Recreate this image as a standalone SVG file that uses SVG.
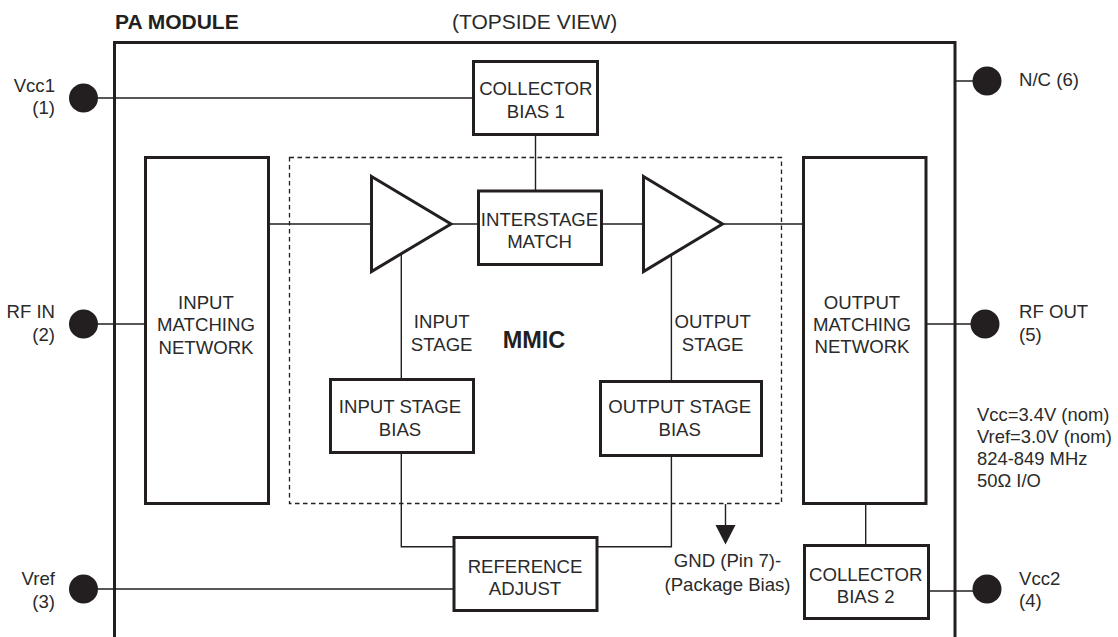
<svg xmlns="http://www.w3.org/2000/svg" width="1118" height="637" viewBox="0 0 1118 637">
<defs><style>
text{font-family:"Liberation Sans",Arial,sans-serif;font-size:18.6px;fill:#2a2a2a}
.m{text-anchor:middle}.e{text-anchor:end}
.b{fill:#fff;stroke:#231f20;stroke-width:3}
.l{fill:none;stroke:#231f20;stroke-width:1.4}
.p{fill:#231f20}
</style></defs>
<rect width="1118" height="637" fill="#fff"/>
<g id="labels">
<text x="115" y="29" style="font-weight:bold;font-size:21px;fill:#231f20">PA MODULE</text>
<text x="452" y="29" style="font-size:21px">(TOPSIDE VIEW)</text>
<text x="977" y="421" style="font-size:18.4px">Vcc=3.4V (nom)</text>
<text x="977" y="443" style="font-size:18.4px">Vref=3.0V (nom)</text>
<text x="977" y="465" style="font-size:18.4px">824-849 MHz</text>
<text x="977" y="487" style="font-size:18.4px">50Ω I/O</text>
<text x="727.5" y="567" class="m">GND (Pin 7)-</text>
<text x="727.5" y="591" class="m">(Package Bias)</text>
<text x="441.7" y="328" class="m">INPUT</text>
<text x="441.7" y="351" class="m">STAGE</text>
<text x="712.7" y="328" class="m">OUTPUT</text>
<text x="712.7" y="351" class="m">STAGE</text>
<text x="534" y="348" class="m" style="font-weight:bold;font-size:23.5px;fill:#231f20">MMIC</text>
</g>
<rect id="module" x="114.5" y="42.5" width="840.5" height="610" fill="none" stroke="#231f20" stroke-width="3"/>
<rect id="mmic" x="289.5" y="157.5" width="492" height="346" fill="none" stroke="#231f20" stroke-width="1.3" stroke-dasharray="4.5 3.5"/>
<g id="connectors">
<path class="l" d="M83 98H473M535.5 135V190M269 224H371M450 224H478M602 224H643M722 224H803M401.3 255V379M671.4 240V381M95 324H145M926 324H985M401.3 453V546.7H454M671.4 456V546.7H597M83 589H454M865.7 504V545M927 591H985M975 81H954"/>
<path class="l" d="M725.5 504V525"/>
<polygon class="p" points="715.5,525 735.5,525 725.5,544.5"/>
</g>
<g id="pin1"><circle class="p" cx="83.5" cy="98" r="14.5"/><text x="55" y="92" class="e">Vcc1</text><text x="55" y="114" class="e">(1)</text></g>
<g id="pin2"><circle class="p" cx="83.5" cy="324" r="14.5"/><text x="55" y="318" class="e">RF IN</text><text x="55" y="341" class="e">(2)</text></g>
<g id="pin3"><circle class="p" cx="83.5" cy="589" r="14.5"/><text x="55" y="585" class="e">Vref</text><text x="55" y="608" class="e">(3)</text></g>
<g id="pin4"><circle class="p" cx="987" cy="589" r="14.5"/><text x="1019" y="585">Vcc2</text><text x="1019" y="607">(4)</text></g>
<g id="pin5"><circle class="p" cx="985" cy="324" r="14.5"/><text x="1019" y="318">RF OUT</text><text x="1019" y="341">(5)</text></g>
<g id="pin6"><circle class="p" cx="987" cy="81" r="14.5"/><text x="1019" y="86">N/C (6)</text></g>
<g id="collector1"><rect class="b" x="473.5" y="61.5" width="124" height="73"/><text x="535.8" y="95" class="m">COLLECTOR</text><text x="535.8" y="118" class="m">BIAS 1</text></g>
<g id="inmatch"><rect class="b" x="145.5" y="157.5" width="123" height="346"/><text x="206" y="309" class="m">INPUT</text><text x="206" y="331" class="m">MATCHING</text><text x="206" y="354" class="m">NETWORK</text></g>
<g id="amp1"><polygon class="b" points="371.5,176.5 451,224 371.5,271.5"/></g>
<g id="interstage"><rect class="b" x="478.5" y="191" width="123" height="73.5"/><text x="539.5" y="226" class="m">INTERSTAGE</text><text x="539.5" y="248" class="m">MATCH</text></g>
<g id="amp2"><polygon class="b" points="643.5,176.5 722.5,224 643.5,271.5"/></g>
<g id="outmatch"><rect class="b" x="803.5" y="157.5" width="122.5" height="346"/><text x="862" y="309" class="m">OUTPUT</text><text x="862" y="331" class="m">MATCHING</text><text x="862" y="353" class="m">NETWORK</text></g>
<g id="inbias"><rect class="b" x="330.5" y="379.5" width="143" height="73"/><text x="400" y="413" class="m">INPUT STAGE</text><text x="400" y="436" class="m">BIAS</text></g>
<g id="outbias"><rect class="b" x="600.5" y="381.5" width="161" height="74"/><text x="679.7" y="413" class="m">OUTPUT STAGE</text><text x="679.7" y="436" class="m">BIAS</text></g>
<g id="refadj"><rect class="b" x="454" y="537.5" width="143" height="73"/><text x="525" y="573" class="m">REFERENCE</text><text x="525" y="595" class="m">ADJUST</text></g>
<g id="collector2"><rect class="b" x="804.5" y="545.5" width="124" height="73"/><text x="865.7" y="581" class="m">COLLECTOR</text><text x="865.7" y="603" class="m">BIAS 2</text></g>
</svg>
